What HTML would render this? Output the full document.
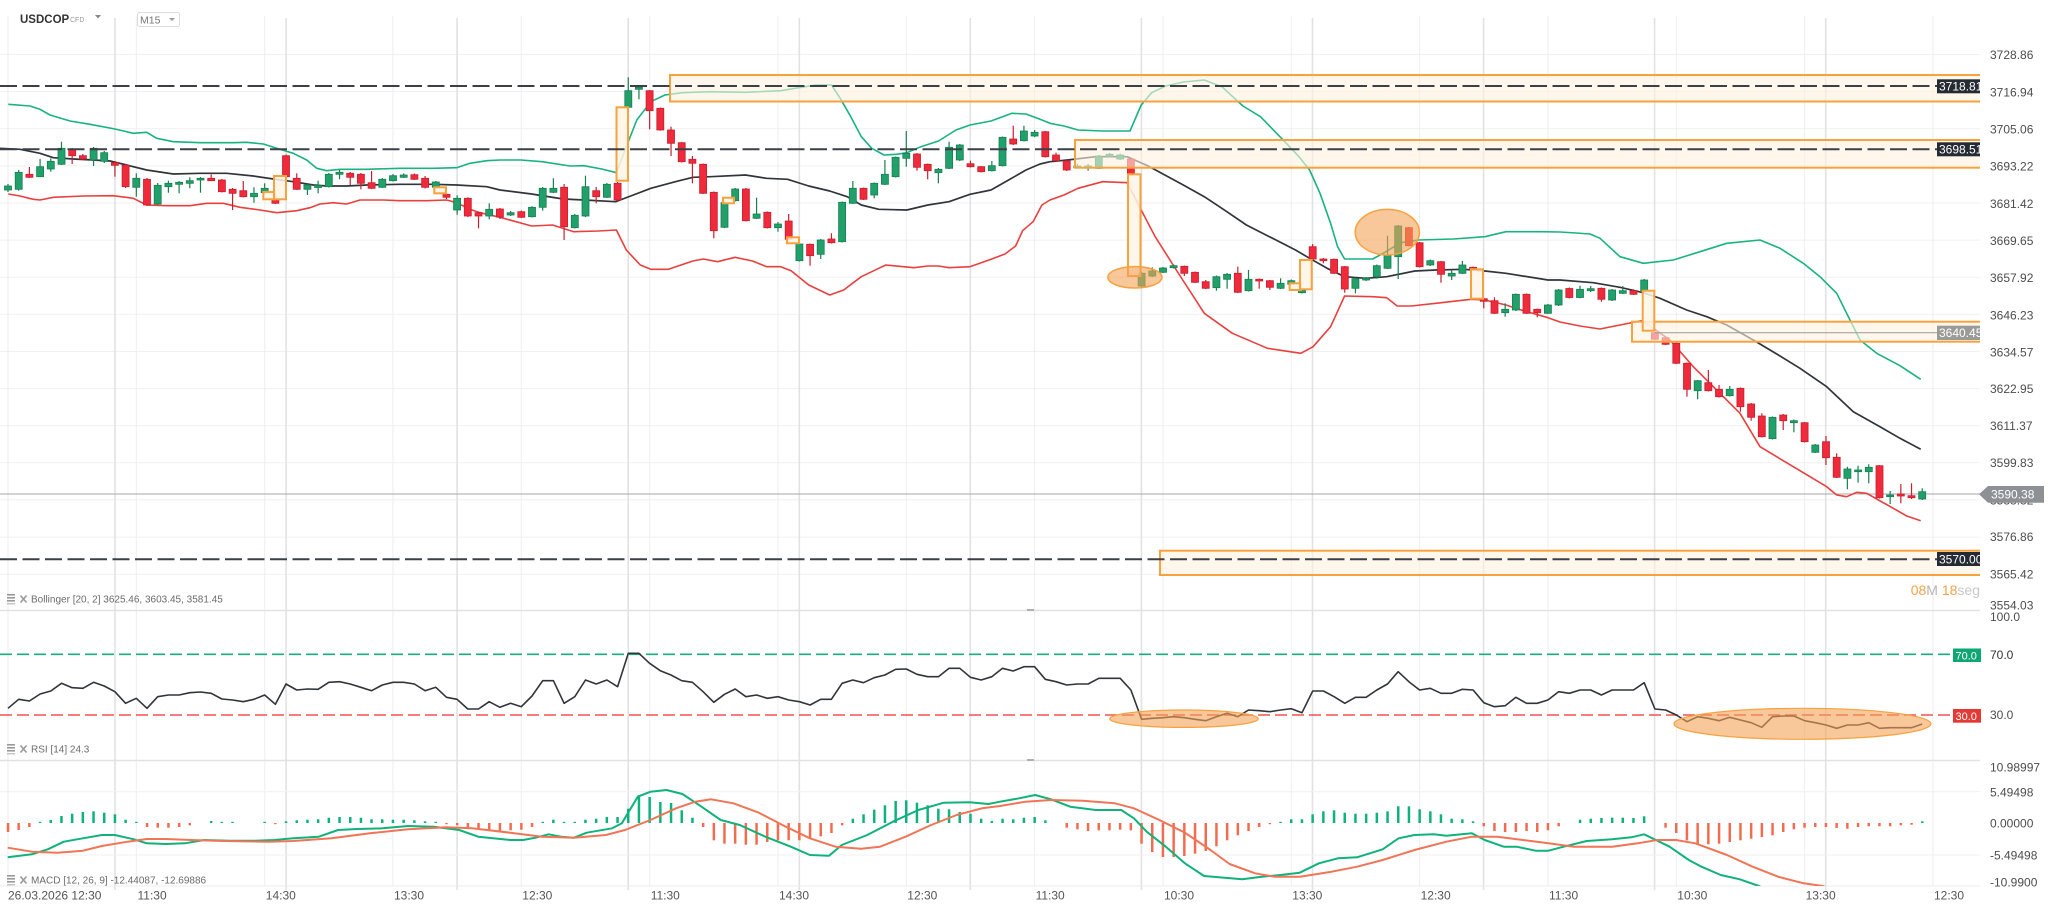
<!DOCTYPE html>
<html><head><meta charset="utf-8">
<style>
html,body{margin:0;padding:0;background:#fff;width:2048px;height:911px;overflow:hidden}
svg{display:block;font-family:"Liberation Sans",Arial,sans-serif}
.ax{font-size:12px;fill:#4d4d4d}
.tl{font-size:12px;fill:#555}
.pl{font-size:10px;fill:#6b6b6b}
.lb{font-size:12px;fill:#fff}
</style></head><body>
<svg xmlns="http://www.w3.org/2000/svg" width="2048" height="911" viewBox="0 0 2048 911">
<defs>
<clipPath id="cm"><rect x="0" y="16" width="1980" height="594"/></clipPath>
<clipPath id="cr"><rect x="0" y="611" width="1980" height="149"/></clipPath>
<clipPath id="cd"><rect x="0" y="761" width="1980" height="125"/></clipPath>
<clipPath id="cl"><rect x="1930" y="0" width="50" height="911"/></clipPath>
</defs>
<rect width="2048" height="911" fill="#fff"/>
<g id="grid"></g>
<line x1="0" y1="610.5" x2="1980" y2="610.5" stroke="#e2e2e2" stroke-width="1.5"/>
<line x1="0" y1="760.5" x2="1980" y2="760.5" stroke="#e2e2e2" stroke-width="1.5"/>
<line x1="0" y1="886" x2="1980" y2="886" stroke="#ececec"/>
<rect x="1027" y="609" width="7" height="2" fill="#b0b0b0"/>
<rect x="1027" y="759" width="7" height="2" fill="#b0b0b0"/>

<!-- header -->
<text x="20" y="23" font-size="11.5" font-weight="bold" fill="#333">USDCOP</text>
<text x="70" y="22" font-size="7" fill="#999">CFD</text>
<path d="M95 15 L101 15 L98 18.5 Z" fill="#888"/>
<rect x="137.5" y="12.5" width="42" height="14" rx="2" fill="#fff" stroke="#dcdcdc"/>
<text x="140" y="23.5" font-size="10.5" fill="#777">M15</text>
<path d="M169 18 L175 18 L172 21 Z" fill="#999"/>

<!-- main pane -->
<g clip-path="url(#cm)">
<line x1="0" y1="494" x2="1980" y2="494" stroke="#a3a7ab" stroke-width="1"/>
<polyline fill="none" stroke="#19b37f" stroke-width="1.6" stroke-linejoin="round" points="8.3,104.3 30,106 40,109.3 50,115 70,121 90,124.3 115,129 133.3,133.3 146.7,132.3 156.7,138.3 173.3,141.7 200,142.7 233.3,142.7 246.7,142.3 263.3,144 276.7,148.3 293.3,153.3 306.7,160 316.7,168.3 326.7,170.7 340,169.3 366.7,169.3 400,168.3 433.3,168.3 456.7,167.7 470,163.3 486.7,160.7 500,160 521,160 542,161.7 570,166 584,165.7 601.7,169 616.4,172.7 626.3,146.7 636.8,120 650.8,101.7 664.9,95 682.4,92.7 710.5,91.7 745.5,92.3 780.6,90.7 815.7,85 831.5,85 840.2,98.3 850.8,116.7 861.3,136.7 871.8,148.3 884,155 896.4,154.3 906.9,152.7 920.9,146.7 938.5,141 956,130 970,125 991,121 1012,113.3 1026,114 1040,119.3 1050,123.3 1064,126 1078,130 1102.6,131 1130,131 1141.2,105 1151.7,92.7 1165.7,86 1183.3,82 1204.3,80 1221.9,86.7 1242.9,106 1260.5,116.7 1281.5,138.3 1299,156.7 1309.6,170 1320,193.3 1330.6,223.3 1337.6,246.7 1344.6,259 1372.7,259 1383.2,253.3 1400.7,242.7 1418.3,240 1453.4,239 1484.9,236.7 1506,231.7 1541,231.7 1560,232 1576,233 1590,234 1600,238.3 1620,256.7 1643.3,263.3 1673.3,260 1700,251.7 1726.7,243.3 1760,240 1780,248.3 1803.3,263.3 1820,276.7 1836.7,293.3 1850,320 1860,340 1876.7,353.3 1900,365.7 1920.7,379.3"/>
<polyline fill="none" stroke="#30353b" stroke-width="1.7" stroke-linejoin="round" points="0,148.3 20,149.3 40,153.3 53.3,157.7 73.3,159 93.3,160 110,161 126.7,165 146.7,170 173.3,174 200,173.3 226.7,173.3 253.3,176 273.3,179 293.3,181.7 313.3,185 326.7,186 346.7,186 366.7,185 400,184.3 433.3,184.3 456.7,185 486.7,186.7 500,190 531.6,194 563.1,199 584.2,200 615.7,201.7 633.3,195 650.8,188.3 675.4,181.7 692.9,177.3 710.5,176.7 745.5,175 766.6,178.3 787.6,179.3 808.7,186 829.7,191 847.2,196.7 861.3,205 878.8,209.3 906.9,210 927.9,205 949,201.7 970,194.3 991,190 1008.6,180 1026,170 1040,164 1050,161.7 1067.5,160 1095.6,156.7 1127.2,156.7 1148.2,166 1183.3,185 1204.3,196.7 1225.4,210.7 1246.4,225 1274.5,239.3 1295.5,250 1309.6,258.3 1327.1,268.3 1344.6,276.7 1365.7,278.3 1386.7,276.7 1414.8,271 1435.8,270 1463.9,269.3 1484.9,271 1506,273.3 1548,280 1560,280 1593.3,282.7 1620,287.3 1643.3,292.7 1660,298.3 1686.7,310 1706.7,316.7 1726.7,325 1753.3,340 1776.7,354 1800,368.3 1826.7,386.7 1853.3,411.7 1880,426.7 1900,438.3 1920.7,449.3"/>
<polyline fill="none" stroke="#e8403e" stroke-width="1.6" stroke-linejoin="round" points="8.3,194 20,196 33.3,199.3 40,200 53.3,197.3 83.3,196 113.3,195.7 133.3,198.3 146.7,205 166.7,205.7 190,205.7 206.7,203.3 223.3,203.3 240,207.3 260,210 276.7,212.7 296.7,210.7 310,207.7 320,204 333.3,202.7 346.7,204 360,200 383.3,200 400,200.7 426.7,200.7 446.7,200 456.7,202.7 470,209.3 480,212.7 500,217.3 531.6,226 552.6,225 573.7,231.7 598.2,231 616.4,230 626.3,250 640.3,265 650.8,269.3 668.4,269.3 692.9,261 703.4,259 717.5,261.7 735,257.3 752.5,261 766.6,266.7 780.6,266.7 791.1,270.7 808.7,285 829.7,295 843.7,290 861.3,276.7 878.8,268.3 885.8,265 913.9,267.7 927.9,266 938.5,266 949,267.7 970,266.7 991,259.3 1005,254 1015.6,246 1022.6,230.7 1033.1,221.7 1041.9,205 1050,200 1064,195 1078,188.3 1102.6,181.7 1127.2,182.7 1141.2,210 1155.2,236.7 1176.3,270 1204.3,313.3 1232.4,333.3 1267.5,348.3 1300.8,353.3 1313.1,346.7 1330.6,326.7 1344.6,296 1372.7,296.7 1386.7,297.7 1397.2,306 1411.3,306 1435.8,303.3 1470.9,299.3 1484.9,300 1506,305 1523.5,310.7 1548,317.7 1560,322 1580,326 1600,329 1620,325 1641.7,320.7 1653.3,328.3 1670,340 1693.3,366.7 1716.7,390 1740,413.3 1760,446.7 1793.3,466.7 1826.7,486.7 1836.7,495 1846.7,496.7 1856.7,492.3 1866.7,493.3 1876.7,499 1893.3,508.3 1906.7,516 1920.7,520.7"/>
<g id="candles"></g>
<g fill="#fff2e0" fill-opacity="0.6" stroke="#f6a23f" stroke-width="2">
<rect x="670" y="75" width="1330" height="26.5"/>
<rect x="1075" y="140" width="925" height="27.7"/>
<rect x="1632" y="321.7" width="368" height="20"/>
<rect x="1160" y="550.7" width="840" height="24.3"/>
</g>
<g fill="#fff4e6" fill-opacity="0.85" stroke="#f6a23f" stroke-width="2">
<rect x="263.3" y="192" width="11.7" height="7.3"/>
<rect x="274" y="176" width="12" height="23.3"/>
<rect x="434.3" y="187.3" width="11.7" height="6"/>
<rect x="616.5" y="107.3" width="11.5" height="73.4"/>
<rect x="723" y="197.7" width="11" height="5.6"/>
<rect x="787" y="237.3" width="12" height="6"/>
<rect x="1128" y="174.3" width="12.5" height="101.7"/>
<rect x="1289.6" y="283.3" width="11.2" height="6.7"/>
<rect x="1300" y="260" width="11.7" height="29.3"/>
<rect x="1471" y="269.3" width="12" height="29.4"/>
<rect x="1642.7" y="290.7" width="11.6" height="40"/>
</g>
<ellipse cx="1134.9" cy="277.3" rx="27" ry="10.7" fill="#f3a257" fill-opacity="0.6" stroke="#f6a23f" stroke-width="1.5"/>
<ellipse cx="1387.3" cy="232.2" rx="32.1" ry="22.8" fill="#f3a257" fill-opacity="0.6" stroke="#f6a23f" stroke-width="1.5"/>
<g stroke="#3a4046" stroke-width="2" stroke-dasharray="17 5.5">
<line x1="0" y1="86" x2="1937" y2="86"/>
<line x1="0" y1="149.3" x2="1937" y2="149.3"/>
<line x1="0" y1="559.3" x2="1937" y2="559.3"/>
</g>
<line x1="1655" y1="332.7" x2="1937" y2="332.7" stroke="#9a9a9a" stroke-width="1"/>
</g>

<!-- level labels -->
<g clip-path="url(#cl)">
<rect x="1937" y="79.3" width="43" height="14" fill="#252b33"/>
<text class="lb" x="1939" y="90.7">3718.81</text>
<rect x="1937" y="142.3" width="43" height="14" fill="#252b33"/>
<text class="lb" x="1939" y="153.7">3698.51</text>
<rect x="1937" y="325.7" width="43" height="14.3" fill="#9a9a96"/>
<text class="lb" x="1939" y="337.2">3640.45</text>
<rect x="1937" y="552" width="43" height="14" fill="#252b33"/>
<text class="lb" x="1939" y="563.4">3570.00</text>
</g>

<!-- price axis -->
<g class="ax">
<text x="1990" y="59">3728.86</text>
<text x="1990" y="96.3">3716.94</text>
<text x="1990" y="133.4">3705.06</text>
<text x="1990" y="170.7">3693.22</text>
<text x="1990" y="207.8">3681.42</text>
<text x="1990" y="245">3669.65</text>
<text x="1990" y="282.1">3657.92</text>
<text x="1990" y="319.3">3646.23</text>
<text x="1990" y="356.4">3634.57</text>
<text x="1990" y="393">3622.95</text>
<text x="1990" y="430.1">3611.37</text>
<text x="1990" y="467.1">3599.83</text>
<text x="1990" y="504.5">3588.32</text>
<text x="1990" y="540.8">3576.86</text>
<text x="1990" y="578.4">3565.42</text>
<text x="1990" y="609.6">3554.03</text>
<text x="1990" y="621">100.0</text>
<text x="1990" y="659" fill="#333">70.0</text>
<text x="1990" y="719">30.0</text>
<text x="1990" y="771.3">10.98997</text>
<text x="1990" y="796.3">5.49498</text>
<text x="1990" y="827.3">0.00000</text>
<text x="1990" y="859.7">-5.49498</text>
<text x="1990" y="886.7">-10.9900</text>
</g>
<polygon points="1979,494.3 1988,486 2044,486 2044,502.7 1988,502.7" fill="#8d9196"/>
<text class="lb" x="1991" y="498.6">3590.38</text>
<text x="1980" y="595" font-size="14" text-anchor="end"><tspan fill="#f7a24a">08</tspan><tspan fill="#b5b5b5">M </tspan><tspan fill="#f7a24a">18</tspan><tspan fill="#c8c8c8">seg</tspan></text>

<!-- RSI pane -->
<g clip-path="url(#cr)">
<line x1="0" y1="654.3" x2="1953" y2="654.3" stroke="#15b07d" stroke-width="1.6" stroke-dasharray="12 5"/>
<line x1="0" y1="715" x2="1953" y2="715" stroke="#ef5350" stroke-width="1.6" stroke-dasharray="12 5"/>
<polyline id="rsi" fill="none" stroke="#30353b" stroke-width="1.6" stroke-linejoin="round"/>
<ellipse cx="1184" cy="718.7" rx="74.3" ry="8.7" fill="#f3a257" fill-opacity="0.6" stroke="#f6a23f" stroke-width="1.2"/>
<ellipse cx="1802.5" cy="723.8" rx="128.5" ry="15.5" fill="#f3a257" fill-opacity="0.6" stroke="#f6a23f" stroke-width="1.2"/>
</g>
<rect x="1953" y="648.5" width="28" height="13.5" fill="#0ea673"/>
<text x="1955.5" y="659.3" font-size="11" fill="#fff">70.0</text>
<rect x="1953" y="709" width="28" height="13.7" fill="#e53935"/>
<text x="1955.5" y="719.8" font-size="11" fill="#fff">30.0</text>

<!-- MACD pane -->
<g clip-path="url(#cd)">
<line x1="0" y1="791.7" x2="1980" y2="791.7" stroke="#f1f1f1"/>
<line x1="0" y1="855" x2="1980" y2="855" stroke="#f1f1f1"/>
<g id="hist"></g>
<polyline fill="none" stroke="#10b27a" stroke-width="2" stroke-linejoin="round" points="7.7,857.3 31.9,854.3 47.8,849.3 63.8,841.7 82.9,838.3 102,835 114.8,835 133.9,839.3 146.7,843.3 165.8,844 185,843.3 204.1,840 229.6,840.7 255.1,840.7 274.2,840 293.4,838.3 318.9,836.7 338,830 357.1,829 382.7,828.3 408.2,826 433.7,826.7 459.2,830 478.3,836.7 510.2,840 523,840 535.7,837.7 548.5,834.3 561.2,836.7 574,837.7 586.7,832.7 612.2,828.3 621.8,823.3 637.8,796.7 650.5,791.7 666.5,790 682.4,794 701.5,806.7 720.7,820 739.8,825 765.3,836.7 790.8,846.7 809.9,855 829.1,855.7 841.8,845 867.3,835 892.9,821.7 918.4,810 943.9,802.7 969.4,802.3 988.5,804 1000,801.7 1019.1,798.3 1035.1,795 1051,799.3 1070.2,806.7 1095.7,810 1121.2,810 1133.9,818.3 1146.7,831.7 1165.8,846.7 1184.9,863.3 1204.1,876 1242.3,879.3 1261.5,876.7 1280.6,875 1299.7,872.7 1318.9,863.3 1338,858.3 1357.1,857.3 1382.7,849.3 1398.6,838.3 1414.5,835 1433.7,834.3 1446.4,835.7 1471.9,833.3 1484.7,840 1503.8,846.7 1516.6,846.7 1535.7,850.7 1548.5,850.7 1561.2,847.3 1586.7,841 1612.2,839.3 1631.4,837.3 1644.1,834.3 1669.6,846.7 1688.8,860 1701.5,866.7 1720.7,875 1739.8,879.3 1758.9,886 1780,896"/>
<polyline fill="none" stroke="#f07556" stroke-width="2" stroke-linejoin="round" points="7.7,847.7 31.9,851.7 57.4,852.7 82.9,850.7 102,846 127.6,841.7 146.7,839 165.8,839 191.3,840 223.2,841 267.9,841.7 293.4,841 331.6,838.3 369.9,833.3 408.2,829.3 446.4,827.3 471.9,828.3 510.2,832.7 542.1,836.7 574,837.7 605.9,835 625,830 650.5,820 676,808.3 695.2,801.7 711.1,799.3 733.4,803.3 758.9,812.7 784.4,826 809.9,838.3 835.5,846.7 861,848.7 880.1,846.7 905.6,836.7 931.1,825 956.6,815 982.1,808.3 1000,806 1025.5,801.7 1051,800 1082.9,800.7 1114.8,803.3 1133.9,808.3 1159.4,820 1184.9,832.7 1210.5,850 1229.6,864 1255.1,873.3 1274.2,876.7 1299.7,876.7 1331.6,871.7 1357.1,866.7 1382.7,860 1414.5,850 1446.4,841.7 1471.9,836.7 1497.4,836.7 1523,840 1548.5,843.3 1574,846.7 1612.2,846.7 1637.8,843.3 1656.9,840 1676,840 1695.2,843.3 1727,855 1752.6,866.7 1778.1,876.7 1803.6,883.3 1822.7,886 1850,896"/>
</g>

<!-- pane labels -->
<g fill="#9a9a9a">
<rect x="7" y="594" width="8" height="1.6"/><rect x="7" y="597" width="8" height="1.6"/><rect x="7" y="600" width="8" height="1.6"/><rect x="7" y="603" width="8" height="1.4" fill="#c4c4c4"/>
<rect x="7" y="744" width="8" height="1.6"/><rect x="7" y="747" width="8" height="1.6"/><rect x="7" y="750" width="8" height="1.6"/><rect x="7" y="753" width="8" height="1.4" fill="#c4c4c4"/>
<rect x="7" y="875" width="8" height="1.6"/><rect x="7" y="878" width="8" height="1.6"/><rect x="7" y="881" width="8" height="1.6"/><rect x="7" y="884" width="8" height="1.4" fill="#c4c4c4"/>
</g>
<g stroke="#9a9a9a" stroke-width="1.6">
<path d="M20.5 595.5 L26.5 602.5 M26.5 595.5 L20.5 602.5"/>
<path d="M20.5 745.5 L26.5 752.5 M26.5 745.5 L20.5 752.5"/>
<path d="M20.5 876.5 L26.5 883.5 M26.5 876.5 L20.5 883.5"/>
</g>
<text class="pl" x="31" y="602.5">Bollinger [20, 2] 3625.46, 3603.45, 3581.45</text>
<text class="pl" x="31" y="752.5">RSI [14] 24.3</text>
<text class="pl" x="31" y="883.5">MACD [12, 26, 9] -12.44087, -12.69886</text>

<!-- time axis -->
<g class="tl">
<text x="8" y="899.5">26.03.2026 12:30</text>
<text x="137.5" y="899.5">11:30</text>
<text x="265.8" y="899.5">14:30</text>
<text x="394" y="899.5">13:30</text>
<text x="522.3" y="899.5">12:30</text>
<text x="650.7" y="899.5">11:30</text>
<text x="779" y="899.5">14:30</text>
<text x="907.3" y="899.5">12:30</text>
<text x="1035.6" y="899.5">11:30</text>
<text x="1164" y="899.5">10:30</text>
<text x="1292.3" y="899.5">13:30</text>
<text x="1420.6" y="899.5">12:30</text>
<text x="1549" y="899.5">11:30</text>
<text x="1677.3" y="899.5">10:30</text>
<text x="1805.6" y="899.5">13:30</text>
<text x="1934" y="899.5">12:30</text>
</g>
</svg>
<script>
(function(){
var NS="http://www.w3.org/2000/svg";
function el(p,t,a){var e=document.createElementNS(NS,t);for(var k in a)e.setAttribute(k,a[k]);p.appendChild(e);return e;}
function X(k){return 8+10.694*k;}
var g=document.getElementById('grid');
for(var i=0;i<15;i++){var y=(54.5+37.12*i).toFixed(1);el(g,'line',{x1:0,y1:y,x2:1980,y2:y,stroke:'#f1f1f1','stroke-width':1});}
for(var i=0;i<16;i++){var x=(8+128.33*i).toFixed(1);el(g,'line',{x1:x,y1:16,x2:x,y2:886,stroke:'#eeeeee','stroke-width':1});}
for(var j=0;j<11;j++){var x=(115+171.07*j).toFixed(1);el(g,'line',{x1:x,y1:18,x2:x,y2:890,stroke:'#e2e2e2','stroke-width':1.6});}
var CD="g186,190,184,192;g172.3,189.3,170,190.7;r174.3,177.3,167,178;g166.7,176.7,159,177;g161.3,169,158.3,171.7;g148.3,164.3,141.7,165;r149.3,155.7,148,164;r155.7,159,154,160;g148.3,160,147,166;g152.7,161.3,151,163;r162.7,165.3,161,176.7;r165.3,186.7,164,188;g178.3,187.3,173.3,196.7;r179.3,205,178,206;g185.3,204,183,205;g183.3,186.7,180.7,192.7;g182.3,184.3,181,193.3;g180.7,183.3,177.3,188.3;g178.3,180,177,192.7;r178.3,180.7,174.3,181;r180,191.7,179,192.5;r189.3,193.3,188,210;r190.7,196.7,181,197.5;g193.3,196.7,187.3,202.7;g188.3,192.7,183.3,195;r200,203.3,199,204;r155.7,176.7,154.5,177.5;r178.3,189.3,173.3,190;g185,189.3,184,195;g185.5,187.5,180.7,193.3;g174.3,186.7,173,187.5;g172.3,174.3,170,179.3;r173.3,177.3,172,185;r174.3,183.3,173,189.3;r182.7,188.3,171,189;g179.3,187.3,178,188;g175.7,180.7,174,181.5;g175,177.3,173.3,178;r174.7,179.3,173.5,180;r178.3,187.3,176,188.5;g182,187.3,181,188;r194.3,197.3,193,199;g198.3,210,195.3,214.7;r198.3,216,197.3,217;r212.7,216,211.5,228.3;g209.3,216,203.3,219.3;r209,217,208,219;g212.7,215,211,216;r211.7,217.3,210.5,218;g207.3,216.7,206.3,217.5;g188.3,207.3,187,210.7;g188.3,192.3,178.3,193;r187.3,226.7,184,240;g215.3,227.7,214,228.5;g186.7,216,175.7,217;r190.7,196.7,187,203.3;g184.3,197.3,183,198;r183.3,200,182,200.7;g90.7,107.3,77.3,108;g87.3,89.3,86,99.3;r90.7,110.7,90,129.3;r108.3,130,107.5,130.7;r130,143.3,126.7,156;r142.7,161.7,142,162.5;r159.3,163.3,156,183.3;r164.3,193.3,163.5,194;r192.3,230.7,191.5,238.3;g202.7,227.3,201.5,228;g189,200.7,188,201.5;r189,220.7,188,221.5;g214,218.3,197.7,219;r212.3,227.7,211.5,228.5;g224,227.7,222,231.7;r221,239.3,214,240;g244,260.7,243,261.5;r244.3,255.7,243.5,265.7;g240,254.3,239,259;r239,242.7,233.3,243.5;g202.3,241.7,201.5,242.5;g188.3,203.3,181,204;r188.3,199.3,187.5,200;g183.3,195,182.5,198.3;g174.3,184.3,160,185;g157.3,176.7,156.5,177.5;g153.3,158.3,131,166.7;r154,167.3,153,170.7;r164.3,170.7,163.5,179.3;g169.3,172.7,168,183.3;g147.3,168.3,141.7,169;g145,160,144,161;r163.7,166.7,160.7,167.5;r166.7,171.7,166,172.5;g165.7,170.7,161,171.5;g137.3,165.7,136.5,166.5;r139,144,125.7,145;g131,140.7,125.7,141.5;g132.3,136,130,137;r131.7,156.7,131,157.5;r155,160.7,152.7,161.5;r161,170,160,171;g166,167.7,164,168.5;g166,167.3,164,170.7;g156,168.3,155,169;g154.3,156.7,153,157.5;g155,159,153.7,160;r159,174,158,174.7;g273.3,286,272,287;g271,276,267.3,277;g268,272.3,267,273;g265.7,267.7,264.5,268.5;r266.3,273.3,265.5,276;r272.3,282.3,271.5,283;r281.7,288.3,280,289;g276.7,287.7,275.5,290.7;g274.3,279.3,273,288.7;r273.3,292.3,266.7,293;g279.3,290.7,270,291.5;r279.3,281,278.5,288.7;r280.7,287.3,280,290;g283.3,288.3,278.3,289;g280.7,284.3,279.5,285;g290,292.7,289,293.5;r246.7,259,244,260;r259,260.7,258,263.3;r259.3,273.3,258.5,274;r266.7,289,266,292.7;g278.7,288.3,277.5,293.3;g278.3,280,277,281;g265.7,276.7,264.5,278.7;g255,268.3,235.7,269;g226,256.7,225,279;r227.7,245.7,227,246.5;r242.7,266.7,242,267.5;g260.7,265,259.5,266;r261.7,274.3,261,282.7;g273.3,276,270,280;g265,273.3,261,274;r267.3,269.3,266.5,270.5;r298.7,301.3,298,308.3;r300.7,313.3,297.3,314;g309.3,312.7,303.3,316.7;g294.3,310,293.5,311;r294.3,313.3,293.5,314;r309.3,312.7,308.5,317.3;g305,313.3,304,314;g290,305,289,306;r288.5,297.5,287.5,298.5;g289.3,297.5,285.7,298.3;g288.7,290.7,286,292;r288.3,299.3,287.5,301.7;g290,300,289,301;g290.7,293.3,286,294;r290.7,294.3,289.3,295;g280,290.7,279,291.5;r332.7,339.3,332,340;r337.7,344.3,337,345;r343.3,363.3,342.5,364;r363.3,389.3,362.5,396.7;g380.7,390.7,380,399.3;r382.7,390.7,370,391.5;r389.3,396.7,385,397.5;g389.3,395.7,386,396.5;r388.3,406.7,387.5,411.7;r404,417.3,403,420.7;r416,436.7,413.3,437.5;g417.3,438.7,416.5,439.5;r415,420.7,414,430;g420.7,422.7,419.5,432.3;r422.7,441.7,422,442.5;g445,452.3,444,453;r441.7,457.7,436,465;r457.3,477.3,453.3,478;g469,478.3,466.7,489.3;g470,471.7,465.7,482.7;g467.3,471.7,464.3,483.3;r465.7,497.7,465,498.5;g495,496.7,491,504;r494,496,484,503.3;r495.7,497.7,483.3,499;g491.7,499,488.3,500";
var cg=document.getElementById('candles');
CD.split(';').forEach(function(s,k){
  var t=s[0],n=s.slice(1).split(',').map(Number),x=X(k);
  var fill=t=='g'?'#22a06b':'#ee2a3b',sc=t=='g'?'#177f50':'#c8202f';
  el(cg,'line',{x1:x,y1:n[2],x2:x,y2:n[3],stroke:sc,'stroke-width':1.2});
  var h=Math.max(1.6,n[1]-n[0]);
  el(cg,'rect',{x:(x-3.5).toFixed(1),y:n[0],width:7,height:h,fill:fill,stroke:sc,'stroke-width':0.8});
});
var H=[-9,-7,-4,1,3,7,9.3,11,11.7,10.3,8.7,3.3,1,-4,-4.7,-4.7,-4,-2.3,0,2,1,1,0,0,1,-1,1.7,2.7,3.3,3.7,5.3,6,6,5.3,3.7,3.7,3.3,3.3,2.7,1.7,1,-0.5,-2.3,-5.7,-6.3,-7.3,-8.3,-7.3,-6.7,-4,1,3.3,1,1,3.3,4.3,6,6,14.3,27.7,26,21,20,12.7,5.3,-4,-17.3,-20.7,-20.7,-21.7,-21.7,-19,-17.3,-17.3,-17.3,-15.7,-13.3,-10,-2.3,4.3,8.7,13.3,17.7,22,22.7,20.3,17.7,14.3,13.7,11,9.3,4.3,2,
4.3,3.7,5.3,6,2.7,0,-4.7,-6.3,-8,-7.3,-7.3,-6.7,-7.3,-20.7,-29,-34,-34,-33,-30.7,-28,-23.3,-17.3,-12.3,-8,-4,-1,0.7,3.7,3.7,8.7,11.7,12.7,10.3,9.3,9.3,10.3,11.7,16.7,16.7,13.7,11.7,8.7,4.3,3.7,1.7,-3.3,-8,-9,-9,-8,-9,-7.3,-3.3,0,3.3,4.3,5,5.3,5.3,5,6.7,0,-4.7,-10,-17.3,-20.7,-21.3,-20.7,-19,-17.3,-15.7,-14,-12.3,-9,-6.3,-4.7,-4,-4,-5,-5.7,-4,-3.3,-3.3,-3.3,-2.3,-1.7,1.7];
var hg=document.getElementById('hist');
H.forEach(function(h,k){if(Math.abs(h)<0.3)return;var x=X(k),a=Math.max(1.2,Math.abs(h));
  el(hg,'rect',{x:(x-1.25).toFixed(1),y:h>0?(823-a):823,width:2.5,height:a,fill:h>0?'#0fb27b':'#f26d50'});});
var R=[295,268,273,252,243,220,233,235,217,228,245,280,265,295,260,255,255,248,246,250,267,270,275,268,255,283,222,240,237,238,217,215,222,232,242,225,217,217,222,242,232,262,268,297,297,275,292,280,290,258,212,212,280,260,210,222,210,230,130,130,160,182,195,212,217,245,277,253,237,260,255,265,260,270,275,285,268,268,220,210,218,203,195,178,177,193,200,200,175,175,202,210,200,175,
183,170,170,208,215,225,222,222,205,205,205,240,328,325,323,320,323,328,332,320,310,320,300,302,305,300,296,308,243,243,260,280,262,262,240,222,185,215,240,235,250,250,238,240,278,290,287,262,280,280,270,245,250,240,240,255,240,240,240,218,297,300,315,335,320,325,332,322,330,338,352,320,318,318,332,338,345,355,345,345,338,355,353,353,353,342];
document.getElementById('rsi').setAttribute('points',R.map(function(v,k){return X(k).toFixed(1)+','+(610+v/3).toFixed(1);}).join(' '));
})();
</script>
</body></html>
